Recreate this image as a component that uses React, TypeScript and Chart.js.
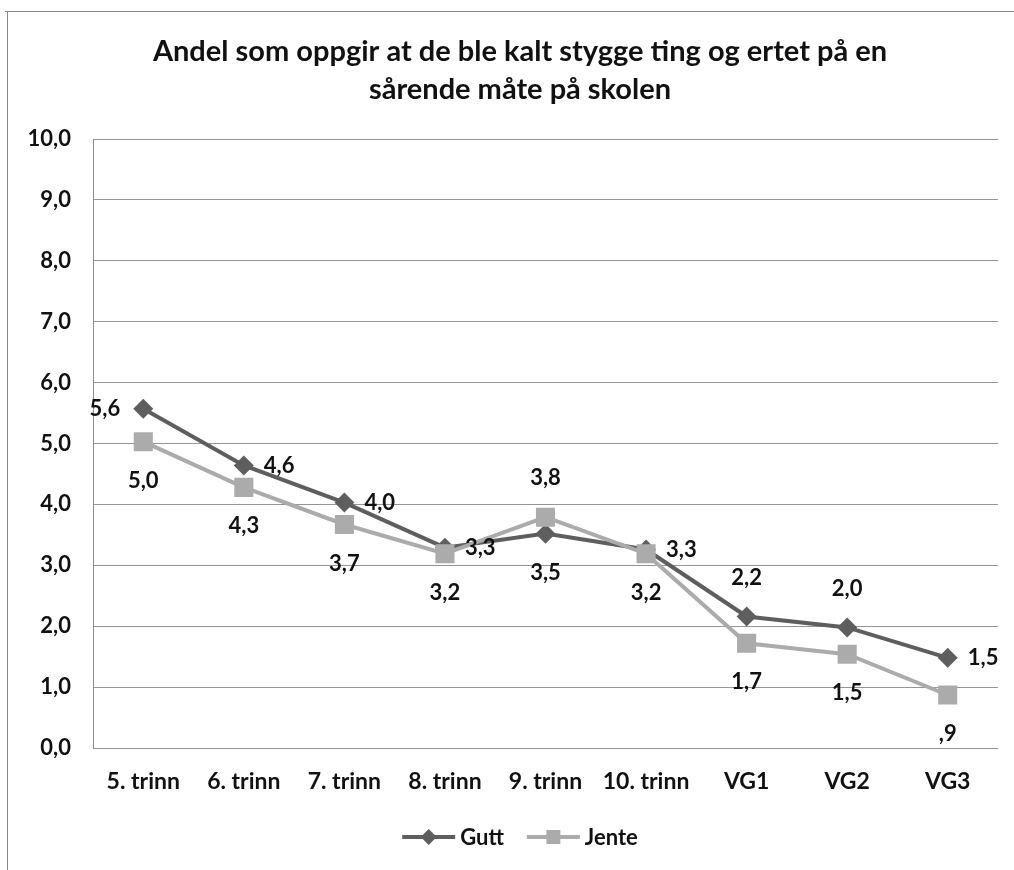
import React, { useEffect, useRef } from "react";
import { Chart, registerables } from "chart.js";
Chart.register(...registerables);

const categories = ["5. trinn", "6. trinn", "7. trinn", "8. trinn", "9. trinn", "10. trinn", "VG1", "VG2", "VG3"];
const guttValues = [5.57, 4.64, 4.03, 3.29, 3.52, 3.26, 2.16, 1.98, 1.48];
const jenteValues = [5.03, 4.28, 3.67, 3.19, 3.79, 3.19, 1.72, 1.54, 0.87];
const seriesNames = ["Gutt", "Jente"];
const titleLines = ["Andel som oppgir at de ble kalt stygge ting og ertet på en", "sårende måte på skolen"];
const yTicks = [0, 1, 2, 3, 4, 5, 6, 7, 8, 9, 10];

const guttLabelPos = ["left", "right", "right", "right", "below", "right", "above", "above", "right"];
const jenteLabelPos = ["below", "below", "below", "below", "above", "below", "below", "below", "below"];

const FONT = "Lato";
const GUTT_COLOR = "#5e5e5e";
const JENTE_COLOR = "#ababab";
const CENTER_X = 520;

const fmtTick = (v: number) => v.toFixed(1).replace(".", ",");
const fmtLabel = (v: number) => v.toFixed(1).replace(".", ",").replace(/^0,/, ",");

const labelPositions = [guttLabelPos, jenteLabelPos];

const titlePlugin = {
  id: "centeredTitle",
  afterDraw(chart: any) {
    const ctx = chart.ctx;
    ctx.save();
    ctx.font = `bold 29px ${FONT}`;
    ctx.fillStyle = "#111";
    ctx.textAlign = "center";
    ctx.textBaseline = "middle";
    titleLines.forEach((line, i) => {
      ctx.fillText(line, CENTER_X, 52 + i * 38);
    });
    ctx.restore();
  },
};

const dataLabelsPlugin = {
  id: "dataLabels",
  afterDatasetsDraw(chart: any) {
    const ctx = chart.ctx;
    ctx.save();
    ctx.font = `bold 22px ${FONT}`;
    ctx.fillStyle = "#111";
    ctx.textBaseline = "middle";
    chart.data.datasets.forEach((ds: any, i: number) => {
      const meta = chart.getDatasetMeta(i);
      const pos = labelPositions[i];
      meta.data.forEach((pt: any, j: number) => {
        const text = fmtLabel(ds.data[j]);
        const p = pos[j];
        let x = pt.x;
        let y = pt.y;
        if (p === "left") {
          ctx.textAlign = "right";
          x -= 23;
        } else if (p === "right") {
          ctx.textAlign = "left";
          x += 20;
        } else {
          ctx.textAlign = "center";
          y += p === "above" ? -39 : 39;
        }
        ctx.fillText(text, x, y);
      });
    });
    ctx.restore();
  },
};

const legendPlugin = {
  id: "customLegend",
  afterDraw(chart: any) {
    const ctx = chart.ctx;
    ctx.save();
    ctx.font = `bold 22px ${FONT}`;
    ctx.textBaseline = "middle";
    ctx.textAlign = "left";
    const lineLen = 53;
    const gapText = 5;
    const gapItem = 23;
    const items = chart.data.datasets.map((ds: any) => ({
      label: ds.label,
      color: ds.borderColor,
      style: ds.pointStyle,
      w: lineLen + gapText + ctx.measureText(ds.label).width,
    }));
    const total = items.reduce((s: number, it: any) => s + it.w, 0) + gapItem * (items.length - 1);
    let x = CENTER_X - total / 2;
    const y = 837;
    items.forEach((it: any) => {
      ctx.strokeStyle = it.color;
      ctx.fillStyle = it.color;
      ctx.lineWidth = 4;
      ctx.beginPath();
      ctx.moveTo(x, y);
      ctx.lineTo(x + lineLen, y);
      ctx.stroke();
      const cx = x + lineLen / 2;
      ctx.beginPath();
      if (it.style === "rectRot") {
        const r = 8;
        ctx.moveTo(cx, y - r);
        ctx.lineTo(cx + r, y);
        ctx.lineTo(cx, y + r);
        ctx.lineTo(cx - r, y);
        ctx.closePath();
      } else {
        const s = 7;
        ctx.rect(cx - s, y - s, 2 * s, 2 * s);
      }
      ctx.fill();
      ctx.fillStyle = "#111";
      ctx.fillText(it.label, x + lineLen + gapText, y + 1);
      x += it.w + gapItem;
    });
    ctx.restore();
  },
};

export default function App() {
  const canvasRef = useRef<HTMLCanvasElement | null>(null);

  useEffect(() => {
    let chart: Chart | null = null;
    let cancelled = false;
    const make = () => {
      if (cancelled || !canvasRef.current) return;
      chart = new Chart(canvasRef.current, {
        type: "line",
        data: {
          labels: categories,
          datasets: [
            {
              label: seriesNames[0],
              data: guttValues,
              borderColor: GUTT_COLOR,
              backgroundColor: GUTT_COLOR,
              borderWidth: 4,
              pointStyle: "rectRot",
              pointRadius: 10,
              pointBorderWidth: 0,
              pointBackgroundColor: GUTT_COLOR,
              tension: 0,
              order: 1,
            },
            {
              label: seriesNames[1],
              data: jenteValues,
              borderColor: JENTE_COLOR,
              backgroundColor: JENTE_COLOR,
              borderWidth: 4,
              pointStyle: "rect",
              pointRadius: 13.5,
              pointBorderWidth: 0,
              pointBackgroundColor: JENTE_COLOR,
              tension: 0,
              order: 0,
            },
          ],
        },
        options: {
          responsive: false,
          animation: false,
          layout: { padding: { left: 0, right: 42, top: 139, bottom: 62 } },
          plugins: {
            legend: { display: false },
            tooltip: { enabled: false },
            title: { display: false },
          },
          scales: {
            x: {
              offset: true,
              grid: { display: false, drawTicks: false },
              border: { display: false },
              ticks: {
                color: "#111",
                font: { family: FONT, size: 23, weight: "bold" },
                padding: 20,
                maxRotation: 0,
                autoSkip: false,
              },
              afterFit(scale: any) {
                scale.height = 60;
              },
            },
            y: {
              min: 0,
              max: 10,
              afterBuildTicks(scale: any) {
                scale.ticks = yTicks.map((v) => ({ value: v }));
              },
              grid: { color: "#959595", lineWidth: 1, drawTicks: false },
              border: { display: true, color: "#8a8a8a", width: 1 },
              ticks: {
                color: "#111",
                font: { family: FONT, size: 22, weight: "bold" },
                padding: 22,
                callback: (v: any) => fmtTick(Number(v)),
              },
              afterFit(scale: any) {
                scale.width = 93;
              },
            },
          },
        },
        plugins: [dataLabelsPlugin, legendPlugin, titlePlugin],
      });
    };
    const fontsReady = (document as any).fonts
      ? Promise.all([
          (document as any).fonts.load(`bold 22px ${FONT}`),
          (document as any).fonts.load(`bold 29px ${FONT}`),
        ]).catch(() => null)
      : Promise.resolve(null);
    fontsReady.then(make);
    return () => {
      cancelled = true;
      if (chart) chart.destroy();
    };
  }, []);

  return (
    <div style={{ position: "fixed", left: 0, top: 0, width: 1014, height: 870, overflow: "hidden", background: "#fff" }}>
      <div style={{ position: "absolute", left: 5, top: 11, width: 1040, height: 1, background: "#8a8a8a" }} />
      <div style={{ position: "absolute", left: 7, top: 11, width: 1, height: 870, background: "#8a8a8a" }} />
      <canvas ref={canvasRef} width={1040} height={870} style={{ position: "absolute", left: 0, top: 0, width: 1040, height: 870 }} />
    </div>
  );
}
